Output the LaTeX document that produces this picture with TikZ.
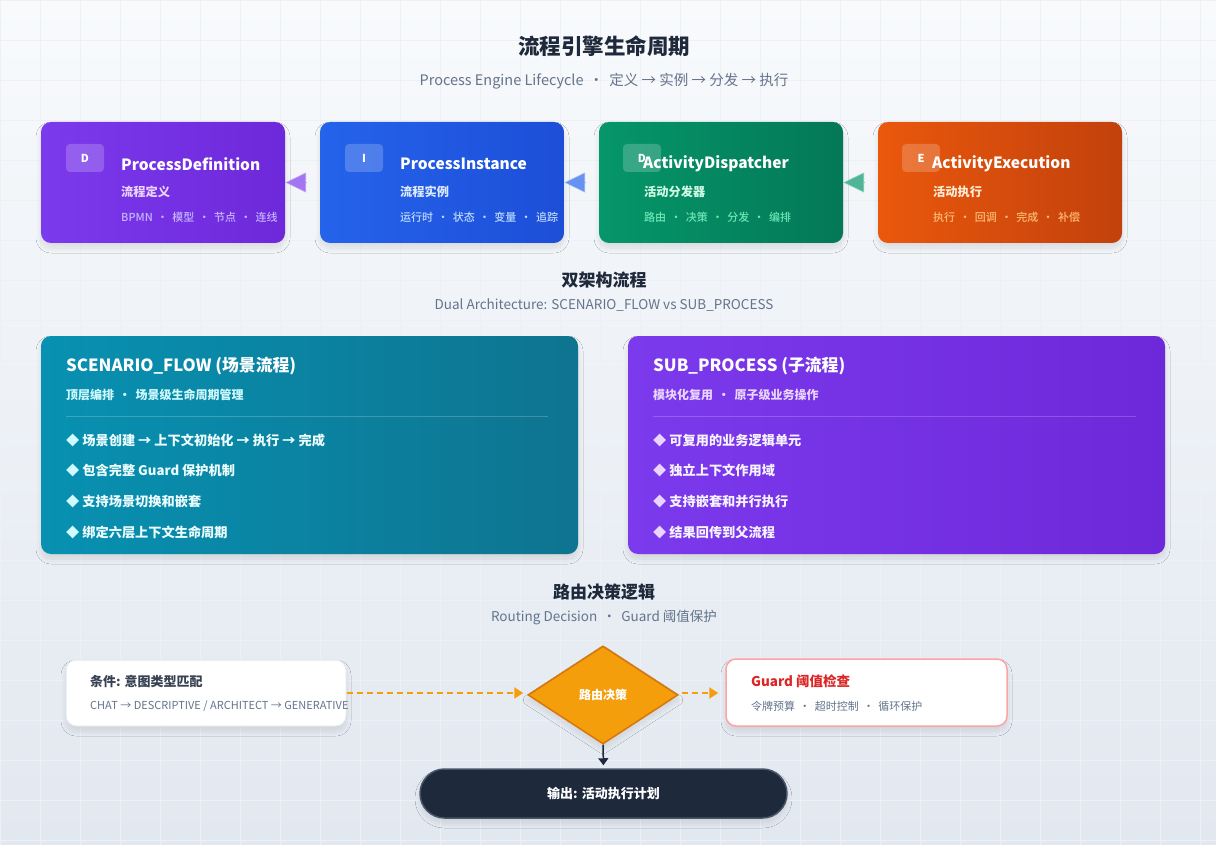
\documentclass[tikz,border=0pt]{standalone}
\usepackage{fontspec}
\setmainfont{Noto Sans CJK SC}
\newfontfamily\medfont{Noto Sans CJK SC Medium}
\usetikzlibrary{shapes.geometric,arrows.meta,shadows.blur}
\definecolor{bgtop}{HTML}{F8FAFC}
\definecolor{bgbot}{HTML}{E2E8F0}
\definecolor{gridc}{HTML}{EDF1F6}
\definecolor{ink}{HTML}{1E293B}
\definecolor{muted}{HTML}{64748B}
\definecolor{pa}{HTML}{7C3AED}\definecolor{pb}{HTML}{6D28D9}
\definecolor{ba}{HTML}{2563EB}\definecolor{bb}{HTML}{1D4ED8}
\definecolor{ga}{HTML}{059669}\definecolor{gb}{HTML}{047857}
\definecolor{oa}{HTML}{EA580C}\definecolor{ob}{HTML}{C2410C}
\definecolor{ta}{HTML}{0891B2}\definecolor{tb}{HTML}{0E7490}
\definecolor{amber}{HTML}{F59E0B}\definecolor{amberd}{HTML}{D97706}
\definecolor{redt}{HTML}{DC2626}\definecolor{pink}{HTML}{FCA5A5}
\definecolor{condt}{HTML}{374151}\definecolor{slateb}{HTML}{475569}
\definecolor{tagp}{HTML}{C4B5FD}\definecolor{tagb}{HTML}{BFDBFE}
\definecolor{tagg}{HTML}{6EE7B7}\definecolor{tago}{HTML}{FDBA74}
\definecolor{subp}{HTML}{E9D5FF}\definecolor{subb}{HTML}{DBEAFE}
\definecolor{subg}{HTML}{D1FAE5}\definecolor{subo}{HTML}{FFEDD5}
\definecolor{cyanl}{HTML}{CFFAFE}\definecolor{cyanw}{HTML}{ECFEFF}
\definecolor{lavl}{HTML}{E9D5FF}\definecolor{lavw}{HTML}{F5F3FF}
\begin{document}
\begin{tikzpicture}[x=1pt,y=-1pt,
  fs/.style={font=\fontsize{#1}{#1}\selectfont},
  fm/.style={font=\medfont\fontsize{#1}{#1}\selectfont},
  fb/.style={font=\bfseries\fontsize{#1}{#1}\selectfont},
  shd/.style={blur shadow={shadow blur steps=10,shadow blur radius=5pt,shadow xshift=0pt,shadow yshift=-5pt,shadow opacity=10}},
  topbox/.style={rounded corners=10pt,minimum width=244pt,minimum height=121pt,inner sep=0pt,shd},
  badge/.style={fill=white,fill opacity=0.2,text opacity=1,text=white,rounded corners=4pt,minimum width=38pt,minimum height=28pt,inner sep=0pt,fb=11},
  ttl/.style={anchor=west,inner sep=0pt,text=white,fb=15.5},
  sub/.style={anchor=west,inner sep=0pt,fb=12.2},
  tag/.style={anchor=west,inner sep=0pt,fm=11},
  flowarr/.style={line width=1.5pt,draw opacity=0.55,shorten <=13pt,-{Triangle[length=21pt,width=20pt]}},
  bigbox/.style={rounded corners=10pt,minimum width=537pt,minimum height=218pt,inner sep=0pt,shd},
  bigttl/.style={anchor=west,inner sep=0pt,text=white,fb=16.8},
  bigsub/.style={anchor=west,inner sep=0pt,fb=12},
  bul/.style={anchor=west,inner sep=0pt,fb=13.2},
  head/.style={inner sep=0pt,text=ink,fb=#1},
  headsub/.style={inner sep=0pt,text=muted,fs=#1},
  dasharr/.style={amber,line width=2pt,dash pattern=on 6pt off 4pt,-{Triangle[length=9pt,width=11pt]}},
]
\useasboundingbox (0,0) rectangle (1216,845);
\shade[top color=bgtop,bottom color=bgbot] (0,0) rectangle (1216,845);
\draw[gridc,line width=0.5pt,step=40pt] (0,0) grid (1216,845);

% titles
\node[head=21.5] (title) at (604,46) {流程引擎生命周期};
\node[headsub=14.5] (subtitle) at (604,81) {Process Engine Lifecycle \,·\, 定义 → 实例 → 分发 → 执行};

% top boxes
\node[topbox,left color=pa,right color=pb] (pd) at (163,182.5) {};
\node[topbox,left color=ba,right color=bb] (pi) at (442,182.5) {};
\node[topbox,left color=ga,right color=gb] (ad) at (721,182.5) {};
\node[topbox,left color=oa,right color=ob] (ae) at (1000,182.5) {};

\node[badge] (pdb) at (85,158) {D};
\node[ttl] (pdt) at (121,164) {ProcessDefinition};
\node[sub,text=subp] (pds) at (121,192) {流程定义};
\node[tag,text=tagp] (pdg) at (121,217) {BPMN \,·\, 模型 \,·\, 节点 \,·\, 连线};

\node[badge] (pib) at (364,158) {I};
\node[ttl] (pit) at (400,164) {ProcessInstance};
\node[sub,text=subb] (pis) at (400,192) {流程实例};
\node[tag,text=tagb] (pig) at (400,217) {运行时 \,·\, 状态 \,·\, 变量 \,·\, 追踪};

\node[badge] (adb) at (642,158) {D};
\node[ttl] (adt) at (643,164) {ActivityDispatcher};
\node[sub,text=subg] (ads) at (644,192) {活动分发器};
\node[tag,text=tagg] (adg) at (644,217) {路由 \,·\, 决策 \,·\, 分发 \,·\, 编排};

\node[badge] (aeb) at (921,158) {E};
\node[ttl] (aet) at (932,164) {ActivityExecution};
\node[sub,text=subo] (aes) at (933,192) {活动执行};
\node[tag,text=tago] (aeg) at (933,217) {执行 \,·\, 回调 \,·\, 完成 \,·\, 补偿};

\draw[flowarr,draw=pa!70!white,fill=pa!70!white] (pi.west) -- (pd.east);
\draw[flowarr,draw=ba!70!white,fill=ba!70!white] (ad.west) -- (pi.east);
\draw[flowarr,draw=ga!70!white,fill=ga!70!white] (ae.west) -- (ad.east);

% dual architecture
\node[head=17] (h2) at (604,280) {双架构流程};
\node[headsub=13.5] (h2s) at (604,305) {Dual Architecture: SCENARIO\_FLOW vs SUB\_PROCESS};

\node[bigbox,left color=ta,right color=tb] (sf) at (309.5,445) {};
\node[bigttl] (sft) at (66,366) {SCENARIO\_FLOW (场景流程)};
\node[bigsub,text=cyanl] (sfs) at (66,395) {顶层编排 \,·\, 场景级生命周期管理};
\draw[white,opacity=0.2,line width=1pt] (66,416) -- (548,416);
\node[bul,text=cyanw] (sf1) at (66,440) {\textcolor{cyanl}{◆} 场景创建 → 上下文初始化 → 执行 → 完成};
\node[bul,text=cyanw] (sf2) at (66,470) {\textcolor{cyanl}{◆} 包含完整 Guard 保护机制};
\node[bul,text=cyanw] (sf3) at (66,501) {\textcolor{cyanl}{◆} 支持场景切换和嵌套};
\node[bul,text=cyanw] (sf4) at (66,532) {\textcolor{cyanl}{◆} 绑定六层上下文生命周期};

\node[bigbox,left color=pa,right color=pb] (sp) at (896.5,445) {};
\node[bigttl] (spt) at (653,366) {SUB\_PROCESS (子流程)};
\node[bigsub,text=lavl] (sps) at (653,395) {模块化复用 \,·\, 原子级业务操作};
\draw[white,opacity=0.2,line width=1pt] (653,416) -- (1136,416);
\node[bul,text=lavw] (sp1) at (653,440) {\textcolor{lavl}{◆} 可复用的业务逻辑单元};
\node[bul,text=lavw] (sp2) at (653,470) {\textcolor{lavl}{◆} 独立上下文作用域};
\node[bul,text=lavw] (sp3) at (653,501) {\textcolor{lavl}{◆} 支持嵌套和并行执行};
\node[bul,text=lavw] (sp4) at (653,532) {\textcolor{lavl}{◆} 结果回传到父流程};

% routing
\node[head=17] (h3) at (604,592) {路由决策逻辑};
\node[headsub=13.5] (h3s) at (604,618) {Routing Decision \,·\, Guard 阈值保护};

\node[rounded corners=10pt,fill=white,draw=bgbot,line width=1pt,minimum width=280pt,minimum height=66pt,inner sep=0pt,shd] (cond) at (206,693) {};
\node[anchor=west,inner sep=0pt,text=condt,fb=13] (condt) at (90,681) {条件: 意图类型匹配};
\node[anchor=west,inner sep=0pt,text=muted,fs=11] (conds) at (90,706) {CHAT → DESCRIPTIVE / ARCHITECT → GENERATIVE};

\node[diamond,aspect=1.53,minimum width=150pt,minimum height=98pt,inner sep=0pt,fill=amber,draw=amberd,line width=1.5pt,text=white,fb=12,shd] (dec) at (603,695) {路由决策};

\node[rounded corners=10pt,fill=white,draw=pink,line width=1.5pt,minimum width=281pt,minimum height=67pt,inner sep=0pt,shd] (guard) at (866.5,692.5) {};
\node[anchor=west,inner sep=0pt,text=redt,fb=13.5] (guardt) at (751,681) {Guard 阈值检查};
\node[anchor=west,inner sep=0pt,text=muted,fs=11] (guards) at (751,706) {令牌预算 \,·\, 超时控制 \,·\, 循环保护};

\node[rounded corners=24.5pt,fill=ink,draw=slateb,line width=1.5pt,minimum width=367pt,minimum height=49pt,inner sep=0pt,text=white,fb=13,shd] (out) at (603.5,793.5) {输出: 活动执行计划};

\draw[dasharr,shorten >=4pt] (cond.east |- 0,693) -- (dec.west |- 0,693);
\draw[dasharr,shorten <=3pt,shorten >=7pt] (dec.east |- 0,693) -- (guard.west |- 0,693);
\draw[ink,line width=1.5pt,shorten >=3pt,-{Triangle[length=7pt,width=10pt]}] (dec.south) -- (out.north);
\end{tikzpicture}
\end{document}
